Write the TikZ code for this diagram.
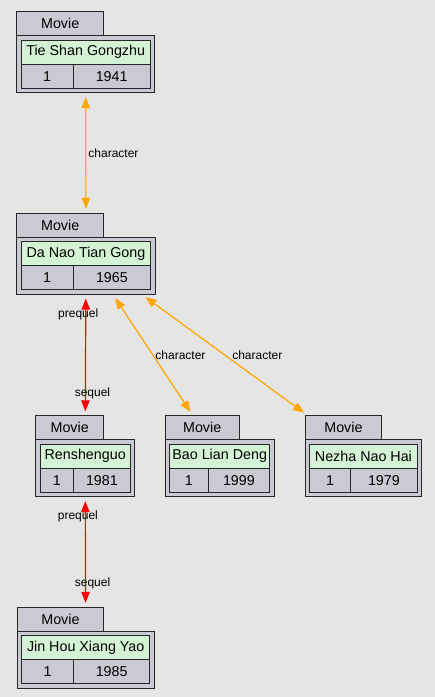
\documentclass[tikz,border=0pt]{standalone}
\usepackage{fontspec}
\setmainfont{Liberation Sans}
\usetikzlibrary{arrows.meta,fit}

\definecolor{canvas}{HTML}{E5E5E5}
\definecolor{cellgray}{HTML}{C9CAD3}
\definecolor{titlegreen}{HTML}{D3F3D4}
\definecolor{rimgray}{HTML}{262626}
\definecolor{charorange}{HTML}{FFA500}

% name, left, top, tab right, right, split, title, year
\newcommand{\moviebox}[8]{%
  \node[cell, minimum width=#4-#2, minimum height=24] (#1-tab) at (#2,#3) {Movie};
  \node[cell, minimum width=#5-#2, minimum height=57] (#1-body) at (#2,#3+24) {};
  \node[cell, fill=titlegreen, minimum width=#5-#2-9, minimum height=24] (#1-title) at (#2+4.5,#3+28.5) {#7};
  \node[cell, minimum width=#6-#2-4.5, minimum height=24] (#1-id) at (#2+4.5,#3+52.5) {1};
  \node[cell, minimum width=#5-#6-4.5, minimum height=24] (#1-year) at (#6,#3+52.5) {#8};
  \node[fit=(#1-tab)(#1-body), inner sep=0pt] (#1) {};
}

\begin{document}
\begin{tikzpicture}[
    x=1pt, y=-1pt,
    cell/.style={draw=rimgray, line width=1.4pt, fill=cellgray,
      inner sep=0pt, anchor=north west,
      font=\fontsize{14.3}{16}\selectfont},
    link/.style={{Triangle[length=11pt,width=8.5pt]}-{Triangle[length=11pt,width=8.5pt]},
      line width=1.2pt, shorten >=3.5pt, shorten <=3.5pt},
    character/.style={link, draw=charorange, fill=charorange},
    family/.style={link, draw=red, fill=red},
    lbl/.style={font=\fontsize{12}{14}\selectfont, inner sep=2pt, fill=none}
  ]
    \path[fill=canvas, use as bounding box] (0,0) rectangle (435,697);

    \moviebox{tieshan}{16}{11}{103}{154}{72.5}{Tie Shan Gongzhu}{1941}
    \moviebox{danao}{16}{212.5}{103}{154.5}{72.5}{Da Nao Tian Gong}{1965}
    \moviebox{renshenguo}{35}{415}{103}{134}{73}{Renshenguo}{1981}
    \moviebox{baolian}{164.5}{415}{238.5}{273.5}{207.5}{Bao Lian Deng}{1999}
    \moviebox{nezha}{304.5}{415}{381}{421}{350}{Nezha Nao Hai}{1979}
    \moviebox{jinhou}{16.5}{606.5}{103}{153.5}{73}{Jin Hou Xiang Yao}{1985}

    \draw[character] (tieshan) -- node[lbl, right] {character} (danao);
    \draw[family] (danao) -- node[lbl, pos=0.16, xshift=-7.5pt] {prequel}
      node[lbl, pos=0.82, xshift=7pt] {sequel} (renshenguo);
    \draw[character] (danao) -- node[lbl, right] {character} (baolian);
    \draw[character] (danao) -- node[lbl, right, xshift=5pt] {character} (nezha);
    \draw[family] (renshenguo) -- node[lbl, pos=0.17, xshift=-7.5pt] {prequel}
      node[lbl, pos=0.79, xshift=7pt] {sequel} (jinhou);
  \end{tikzpicture}
\end{document}
